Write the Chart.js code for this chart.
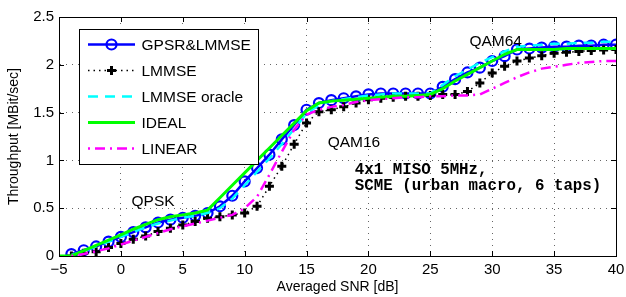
<!DOCTYPE html>
<html lang="en">
<head>
  <meta charset="UTF-8" />
  <title>Throughput vs SNR</title>
  <script src="https://cdn.jsdelivr.net/npm/chart.js"></script>
  <style>
    body { margin: 0; padding: 0; background: #fff; }
    #wrap { width: 626px; height: 297px; }
  </style>
</head>
<body>
  <div id="wrap"><canvas id="myChart" width="626" height="297"></canvas></div>

  <script>
    // averaged SNR [dB]
    const snr = [-5, -4, -3, -2, -1, 0, 1, 2, 3, 4, 5, 6, 7, 8, 9, 10, 11, 12, 13, 14, 15, 16, 17, 18, 19,
                 20, 21, 22, 23, 24, 25, 26, 27, 28, 29, 30, 31, 32, 33, 34, 35, 36, 37, 38, 39, 40];

    // throughput [MBit/sec]
    const gpsr = [null, 0.02, 0.06, 0.1, 0.15, 0.2, 0.25, 0.3, 0.35, 0.38, 0.4, 0.42, 0.45, 0.52, 0.63, 0.78,
                  0.92, 1.06, 1.22, 1.37, 1.53, 1.6, 1.63, 1.65, 1.67, 1.69, 1.7, 1.7, 1.7, 1.7, 1.7,
                  1.77, 1.85, 1.92, 1.97, 2.04, 2.09, 2.16, 2.17, 2.18, 2.19, 2.19, 2.2, 2.2, 2.21, 2.21];
    const lmmse = [null, 0.0, 0.03, 0.045, 0.09, 0.13, 0.175, 0.21, 0.255, 0.29, 0.325, 0.36, 0.395, 0.41, 0.43, 0.45,
                   0.52, 0.73, 0.94, 1.17, 1.39, 1.51, 1.53, 1.56, 1.6, 1.635, 1.65, 1.66, 1.67, 1.67, 1.68,
                   1.69, 1.69, 1.72, 1.81, 1.915, 1.985, 2.04, 2.07, 2.095, 2.12, 2.13, 2.14, 2.15, 2.155, 2.16];
    const oracle = [null, 0.01, 0.05, 0.1, 0.15, 0.2, 0.25, 0.3, 0.34, 0.37, 0.4, 0.42, 0.45, 0.5, 0.6, 0.74,
                    0.88, 1.02, 1.17, 1.33, 1.49, 1.58, 1.62, 1.64, 1.66, 1.68, 1.69, 1.7, 1.7, 1.7, 1.7,
                    1.79, 1.88, 1.95, 2.02, 2.08, 2.14, 2.19, 2.2, 2.21, 2.22, 2.22, 2.23, 2.23, 2.24, 2.24];
    const ideal = [0, 0, 0.055, 0.11, 0.165, 0.22, 0.28, 0.33, 0.38, 0.41, 0.43, 0.45, 0.48, 0.61, 0.74, 0.87,
                   1.0, 1.13, 1.26, 1.39, 1.52, 1.6, 1.62, 1.63, 1.64, 1.65, 1.66, 1.67, 1.67, 1.68, 1.69,
                   1.75, 1.83, 1.9, 1.97, 2.04, 2.11, 2.16, 2.16, 2.16, 2.16, 2.17, 2.17, 2.17, 2.17, 2.17];
    const linear = [null, 0, 0.02, 0.05, 0.08, 0.12, 0.16, 0.2, 0.24, 0.28, 0.31, 0.34, 0.37, 0.4, 0.43, 0.5,
                    0.62, 0.85, 1.09, 1.32, 1.48, 1.53, 1.56, 1.58, 1.61, 1.63, 1.64, 1.65, 1.66, 1.66, 1.67,
                    1.67, 1.68, 1.68, 1.69, 1.75, 1.81, 1.87, 1.92, 1.96, 1.98, 2.0, 2.02, 2.03, 2.04, 2.04];

    const seriesNames = ['GPSR&LMMSE', 'LMMSE', 'LMMSE oracle', 'IDEAL', 'LINEAR'];

    const xTicks = [-5, 0, 5, 10, 15, 20, 25, 30, 35, 40];
    const xTickLabels = ['\u22125', '0', '5', '10', '15', '20', '25', '30', '35', '40'];
    const yTicks = [0, 0.5, 1, 1.5, 2, 2.5];
    const yTickLabels = ['0', '0.5', '1', '1.5', '2', '2.5'];

    const sans = '"Liberation Sans", Arial, Helvetica, sans-serif';
    const toXY = arr => snr.map((x, i) => ({ x: x, y: arr[i] }));

    // look of each series, shared by the datasets and the hand drawn legend
    const looks = [
      { color: '#0000ff', width: 2.5, dash: [], marker: 'circle' },
      { color: '#000000', width: 1.5, dash: [1.5, 4], marker: 'cross' },
      { color: '#00ffff', width: 2.5, dash: [10, 7], marker: null },
      { color: '#00ff00', width: 3, dash: [], marker: null },
      { color: '#ff00ff', width: 2.5, dash: [2, 5, 10, 5], marker: null }
    ];

    const values = [gpsr, lmmse, oracle, ideal, linear];
    const datasets = values.map((arr, i) => {
      const lk = looks[i];
      return {
        label: seriesNames[i],
        data: toXY(arr),
        borderColor: lk.color,
        borderWidth: lk.width,
        borderDash: lk.dash,
        backgroundColor: lk.color,
        pointStyle: lk.marker || 'circle',
        pointRadius: lk.marker === 'circle' ? 5 : (lk.marker === 'cross' ? 4.5 : 0),
        pointBorderWidth: lk.marker === 'cross' ? 3 : 2.2,
        pointBackgroundColor: 'rgba(0,0,0,0)',
        pointBorderColor: lk.color,
        tension: 0,
        fill: false,
        order: values.length - 1 - i
      };
    });

    // box, inward ticks, text notes and the matlab-like legend
    const decor = {
      id: 'decor',
      afterDatasetsDraw(chart) {
        const c = chart.ctx;
        const a = chart.chartArea;
        const xs = chart.scales.x, ys = chart.scales.y;
        c.save();

        // frame and inward ticks
        c.strokeStyle = '#000';
        c.lineWidth = 1;
        c.setLineDash([]);
        c.strokeRect(Math.round(a.left) + 0.5, Math.round(a.top) + 0.5,
                     Math.round(a.right - a.left), Math.round(a.bottom - a.top));
        c.beginPath();
        xTicks.forEach(v => {
          const px = Math.round(xs.getPixelForValue(v)) + 0.5;
          c.moveTo(px, a.bottom); c.lineTo(px, a.bottom - 5);
          c.moveTo(px, a.top); c.lineTo(px, a.top + 5);
        });
        yTicks.forEach(v => {
          const py = Math.round(ys.getPixelForValue(v)) + 0.5;
          c.moveTo(a.left, py); c.lineTo(a.left + 5, py);
          c.moveTo(a.right, py); c.lineTo(a.right - 5, py);
        });
        c.stroke();

        // notes
        c.fillStyle = '#000';
        c.textBaseline = 'middle';
        c.textAlign = 'center';
        c.font = '15.5px ' + sans;
        c.fillText('QPSK', xs.getPixelForValue(2.6), ys.getPixelForValue(0.57));
        c.fillText('QAM16', xs.getPixelForValue(18.83), ys.getPixelForValue(1.19));
        c.fillText('QAM64', xs.getPixelForValue(30.28), ys.getPixelForValue(2.24));
        c.textAlign = 'left';
        c.font = 'bold 15.8px "Liberation Mono", "Courier New", monospace';
        c.fillText('4x1 MISO 5MHz,', xs.getPixelForValue(18.9), ys.getPixelForValue(0.895));
        c.fillText('SCME (urban macro, 6 taps)', xs.getPixelForValue(18.9), ys.getPixelForValue(0.727));

        // legend
        const lx = 79, ly = 29, lw = 179, lh = 135;
        c.fillStyle = '#fff';
        c.fillRect(lx, ly, lw, lh);
        c.strokeStyle = '#000';
        c.lineWidth = 1;
        c.strokeRect(lx + 0.5, ly + 0.5, lw, lh);
        seriesNames.forEach((name, i) => {
          const lk = looks[i];
          const y = 44.5 + i * 26;
          c.strokeStyle = lk.color;
          c.lineWidth = lk.width;
          c.setLineDash(lk.dash);
          c.beginPath();
          c.moveTo(88, y); c.lineTo(135, y);
          c.stroke();
          c.setLineDash([]);
          if (lk.marker === 'circle') {
            c.lineWidth = 2.2;
            c.beginPath();
            c.arc(111.5, y, 5, 0, Math.PI * 2);
            c.stroke();
          } else if (lk.marker === 'cross') {
            c.lineWidth = 3;
            c.beginPath();
            c.moveTo(107, y); c.lineTo(116, y);
            c.moveTo(111.5, y - 4.5); c.lineTo(111.5, y + 4.5);
            c.stroke();
          }
          c.fillStyle = '#000';
          c.font = '15.5px ' + sans;
          c.textAlign = 'left';
          c.textBaseline = 'middle';
          c.fillText(name, 141.5, y + 1);
        });
        c.restore();
      }
    };

    const ctx = document.getElementById('myChart').getContext('2d');
    new Chart(ctx, {
      type: 'line',
      data: { datasets: datasets },
      options: {
        responsive: false,
        animation: false,
        devicePixelRatio: 1,
        layout: { padding: { top: 17, right: 10, left: 0, bottom: 0 } },
        plugins: {
          legend: { display: false },
          tooltip: { enabled: false }
        },
        scales: {
          x: {
            type: 'linear',
            min: -5,
            max: 40,
            afterFit: s => { s.height = 41; s.paddingLeft = 0; s.paddingRight = 0; },
            afterBuildTicks: s => { s.ticks = xTicks.map(v => ({ value: v })); },
            grid: { color: 'rgba(0,0,0,0.6)', lineWidth: 1, drawTicks: false },
            border: { display: true, color: '#000', dash: [1, 5] },
            ticks: {
              padding: 5,
              color: '#000',
              font: { family: sans, size: 15 },
              maxRotation: 0,
              callback: v => { const k = xTicks.indexOf(v); return k < 0 ? '' : xTickLabels[k]; }
            },
            title: {
              display: true,
              text: 'Averaged SNR [dB]',
              color: '#000',
              font: { family: sans, size: 14 },
              padding: { top: 0, bottom: 1 }
            }
          },
          y: {
            min: 0,
            max: 2.5,
            afterFit: s => { s.width = 59; },
            afterBuildTicks: s => { s.ticks = yTicks.map(v => ({ value: v })); },
            grid: { color: 'rgba(0,0,0,0.6)', lineWidth: 1, drawTicks: false },
            border: { display: true, color: '#000', dash: [1, 5] },
            ticks: {
              padding: 5,
              color: '#000',
              font: { family: sans, size: 15 },
              callback: v => { const k = yTicks.indexOf(v); return k < 0 ? '' : yTickLabels[k]; }
            },
            title: {
              display: true,
              text: 'Throughput [MBit/sec]',
              color: '#000',
              font: { family: sans, size: 14 },
              padding: { top: 6, bottom: 0 }
            }
          }
        }
      },
      plugins: [decor]
    });
  </script>
</body>
</html>
